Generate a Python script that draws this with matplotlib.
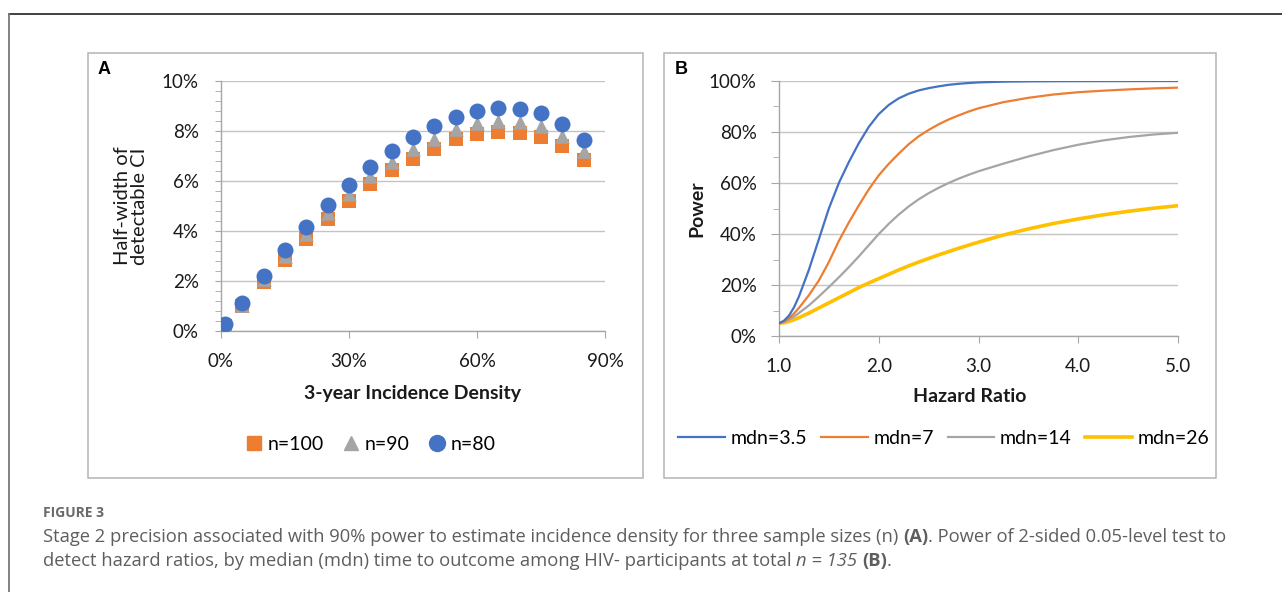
import matplotlib
matplotlib.use("Agg")
import matplotlib.pyplot as plt
from matplotlib.lines import Line2D
from matplotlib.patches import Rectangle
from matplotlib.ticker import PercentFormatter, MultipleLocator, FixedLocator

# ---------------- data ----------------
incidence = [0.01, 0.05, 0.10, 0.15, 0.20, 0.25, 0.30, 0.35, 0.40, 0.45,
             0.50, 0.55, 0.60, 0.65, 0.70, 0.75, 0.80, 0.85]
hw_n100 = [0.20, 1.00, 1.97, 2.84, 3.69, 4.47, 5.20, 5.87, 6.43, 6.90,
           7.30, 7.67, 7.87, 7.96, 7.93, 7.77, 7.40, 6.83]
hw_n90 = [0.21, 1.05, 2.08, 3.00, 3.89, 4.71, 5.48, 6.19, 6.78, 7.27,
          7.69, 8.08, 8.30, 8.39, 8.36, 8.19, 7.80, 7.20]
hw_n80 = [0.27, 1.13, 2.20, 3.23, 4.16, 5.03, 5.83, 6.55, 7.20, 7.75,
          8.19, 8.57, 8.80, 8.91, 8.89, 8.71, 8.28, 7.65]
labels_a = ["n=100", "n=90", "n=80"]

hazard_ratio = [1.0, 1.05, 1.1, 1.15, 1.2, 1.3, 1.4, 1.5, 1.6, 1.7, 1.8, 1.9, 2.0,
                2.1, 2.2, 2.3, 2.4, 2.5, 2.6, 2.7, 2.8, 2.9, 3.0,
                3.25, 3.5, 3.75, 4.0, 4.25, 4.5, 4.75, 5.0]
pow_mdn35 = [5, 6.0, 8, 11.2, 15.5, 26, 38, 50, 60, 68.2, 75.6, 82.0, 87.0,
             90.6, 93.2, 95.0, 96.3, 97.2, 97.9, 98.5, 98.9, 99.2, 99.45,
             99.75, 99.87, 99.93, 99.96, 99.98, 99.99, 100, 100]
pow_mdn7 = [5, 5.7, 7, 8.8, 11, 16, 21.8, 29, 37.3, 44.5, 51.2, 57.5, 63,
            67.5, 71.5, 75.2, 78.3, 80.8, 83.0, 84.9, 86.5, 88.0, 89.3,
            91.7, 93.4, 94.7, 95.6, 96.2, 96.7, 97.1, 97.4]
pow_mdn14 = [5, 5.5, 6.4, 7.6, 9, 12, 15.5, 19.2, 23, 27, 31.2, 35.6, 40,
             44.0, 47.6, 50.8, 53.6, 56.0, 58.1, 60.0, 61.7, 63.2, 64.6,
             67.6, 70.4, 72.9, 75.0, 76.7, 78.0, 79.0, 79.7]
pow_mdn26 = [5, 5.2, 5.7, 6.4, 7.2, 9, 11, 13, 15, 17, 19, 20.8, 22.5,
             24.2, 25.9, 27.5, 29.0, 30.4, 31.8, 33.1, 34.4, 35.6, 36.8,
             39.6, 42.0, 44.1, 45.9, 47.5, 48.9, 50.1, 51.1]
labels_b = ["mdn=3.5", "mdn=7", "mdn=14", "mdn=26"]

BLUE = "#4472C4"
ORANGE = "#ED7D31"
GRAY = "#A5A5A5"
YELLOW = "#FFC000"
GRID = "#C4C4C4"
AXC = "#A6A6A6"
FONT = "Lato"

W, H = 1282, 592
fig = plt.figure(figsize=(W / 100, H / 100), dpi=100)
fig.patch.set_facecolor("white")


def fx(px):
    return px / W


def fy(py):
    return 1 - py / H


# outer frame (top + left)
fig.add_artist(Line2D([fx(9), 1.0], [fy(14), fy(14)], color="#333333", lw=1.3))
fig.add_artist(Line2D([fx(9), fx(9)], [fy(14), 0.0], color="#777777", lw=1.3))

# panel frames
for x0, x1 in [(88, 643), (664, 1216)]:
    fig.add_artist(Rectangle((fx(x0), fy(478)), fx(x1) - fx(x0), fy(53) - fy(478),
                             transform=fig.transFigure, fill=False,
                             edgecolor="#B4B4B4", lw=1.1))


def style_axes(ax):
    for s in ["top", "right"]:
        ax.spines[s].set_visible(False)
    for s in ["left", "bottom"]:
        ax.spines[s].set_color(AXC)
        ax.spines[s].set_linewidth(1.0)
    ax.grid(axis="y", color=GRID, lw=1.0)
    ax.set_axisbelow(True)
    ax.tick_params(axis="both", which="both", color=AXC, labelsize=13.5,
                   labelcolor="#1a1a1a")
    for lab in ax.get_xticklabels() + ax.get_yticklabels():
        lab.set_fontfamily(FONT)


# ---------------- panel A ----------------
axA = fig.add_axes([fx(221), fy(331), fx(605) - fx(221), fy(81) - fy(331)])
axA.scatter(incidence, hw_n100, marker="s", s=10.0 ** 2, color=ORANGE, zorder=3,
            linewidths=0, label=labels_a[0])
axA.scatter(incidence, hw_n90, marker="^", s=10.5 ** 2, color=GRAY, zorder=4,
            linewidths=0, label=labels_a[1])
axA.scatter(incidence, hw_n80, marker="o", s=11.5 ** 2, color=BLUE, zorder=5,
            linewidths=0, label=labels_a[2])
axA.set_xlim(0, 0.9)
axA.set_ylim(0, 10)
axA.xaxis.set_major_locator(FixedLocator([0, 0.3, 0.6, 0.9]))
axA.xaxis.set_major_formatter(PercentFormatter(1.0, decimals=0))
axA.yaxis.set_major_locator(MultipleLocator(2))
axA.yaxis.set_minor_locator(MultipleLocator(0.4))
axA.yaxis.set_major_formatter(PercentFormatter(100, decimals=0))
axA.tick_params(axis="x", which="major", length=5, pad=11)
axA.tick_params(axis="y", which="major", length=4, pad=12)
axA.tick_params(axis="y", which="minor", length=4)
style_axes(axA)

fig.text(fx(131), fy(206), "Half-width of\ndetectable CI", rotation=90,
         ha="center", va="center", fontsize=14.5, family=FONT, color="#1a1a1a",
         linespacing=1.05)
fig.text(fx(413), fy(394), "3-year Incidence Density", ha="center", va="center",
         fontsize=14, family=FONT, fontweight="bold", color="#1a1a1a")
fig.text(fx(104), fy(69), "A", ha="center", va="center", fontsize=13,
         family="Liberation Sans", fontweight="bold", color="black")

hA = [Line2D([], [], ls="none", marker="s", ms=10, color=ORANGE),
      Line2D([], [], ls="none", marker="^", ms=10.5, color=GRAY),
      Line2D([], [], ls="none", marker="o", ms=11.5, color=BLUE)]
fig.legend(hA, labels_a, loc="center", bbox_to_anchor=(fx(371), fy(444)),
           ncol=3, frameon=False, handlelength=0.8, handletextpad=0.3,
           columnspacing=1.0, prop={"family": FONT, "size": 14})

# ---------------- panel B ----------------
axB = fig.add_axes([fx(779), fy(336), fx(1178) - fx(779), fy(81) - fy(336)])
axB.plot(hazard_ratio, pow_mdn35, color=BLUE, lw=1.6, label=labels_b[0], zorder=5)
axB.plot(hazard_ratio, pow_mdn7, color=ORANGE, lw=1.6, label=labels_b[1], zorder=4)
axB.plot(hazard_ratio, pow_mdn14, color=GRAY, lw=1.6, label=labels_b[2], zorder=3)
axB.plot(hazard_ratio, pow_mdn26, color=YELLOW, lw=2.6, label=labels_b[3], zorder=2)
axB.set_xlim(1, 5)
axB.set_ylim(0, 100)
axB.xaxis.set_major_locator(MultipleLocator(1))
axB.xaxis.set_major_formatter(lambda v, p: f"{v:.1f}")
axB.yaxis.set_major_locator(MultipleLocator(20))
axB.yaxis.set_minor_locator(MultipleLocator(10))
axB.yaxis.set_major_formatter(PercentFormatter(100, decimals=0))
axB.tick_params(axis="x", which="major", length=5, pad=11)
axB.tick_params(axis="y", which="major", length=6, pad=10)
axB.tick_params(axis="y", which="minor", length=4)
style_axes(axB)

fig.text(fx(697), fy(209), "Power", rotation=90, ha="center", va="center",
         fontsize=14, family=FONT, fontweight="bold", color="#1a1a1a")
fig.text(fx(970), fy(396), "Hazard Ratio", ha="center", va="center",
         fontsize=14, family=FONT, fontweight="bold", color="#1a1a1a")
fig.text(fx(681), fy(69), "B", ha="center", va="center", fontsize=13,
         family="Liberation Sans", fontweight="bold", color="black")

hB = [Line2D([], [], color=BLUE, lw=1.6), Line2D([], [], color=ORANGE, lw=1.6),
      Line2D([], [], color=GRAY, lw=1.6), Line2D([], [], color=YELLOW, lw=2.6)]
fig.legend(hB, labels_b, loc="center", bbox_to_anchor=(fx(944), fy(438)),
           ncol=4, frameon=False, handlelength=2.4, handletextpad=0.3,
           columnspacing=0.7, prop={"family": FONT, "size": 14})

# ---------------- caption ----------------
CAP = "#5e5e5e"
CAPFONT = "Open Sans"
fig.text(fx(43), fy(513), "FIGURE 3", ha="left", va="center", fontsize=10,
         family=CAPFONT, fontweight="bold", color="#6a6a6a")

renderer = fig.canvas.get_renderer()


def seg_line(x0, y, parts, size=13.25):
    x = fx(x0)
    for txt, kw in parts:
        t = fig.text(x, fy(y), txt, ha="left", va="center", fontsize=size,
                     family=CAPFONT, color=CAP, **kw)
        bb = t.get_window_extent(renderer=renderer)
        x += bb.width / W


seg_line(43, 537, [
    ("Stage 2 precision associated with 90% power to estimate incidence density for three sample sizes (n) ", {}),
    ("(A)", {"fontweight": "bold"}),
    (". Power of 2-sided 0.05-level test to", {}),
])
seg_line(43, 561, [
    ("detect hazard ratios, by median (mdn) time to outcome among HIV- participants at total ", {}),
    ("n = 135", {"fontstyle": "italic"}),
    (" ", {}),
    ("(B)", {"fontweight": "bold"}),
    (".", {}),
])

fig.savefig("out.png", dpi=100)
